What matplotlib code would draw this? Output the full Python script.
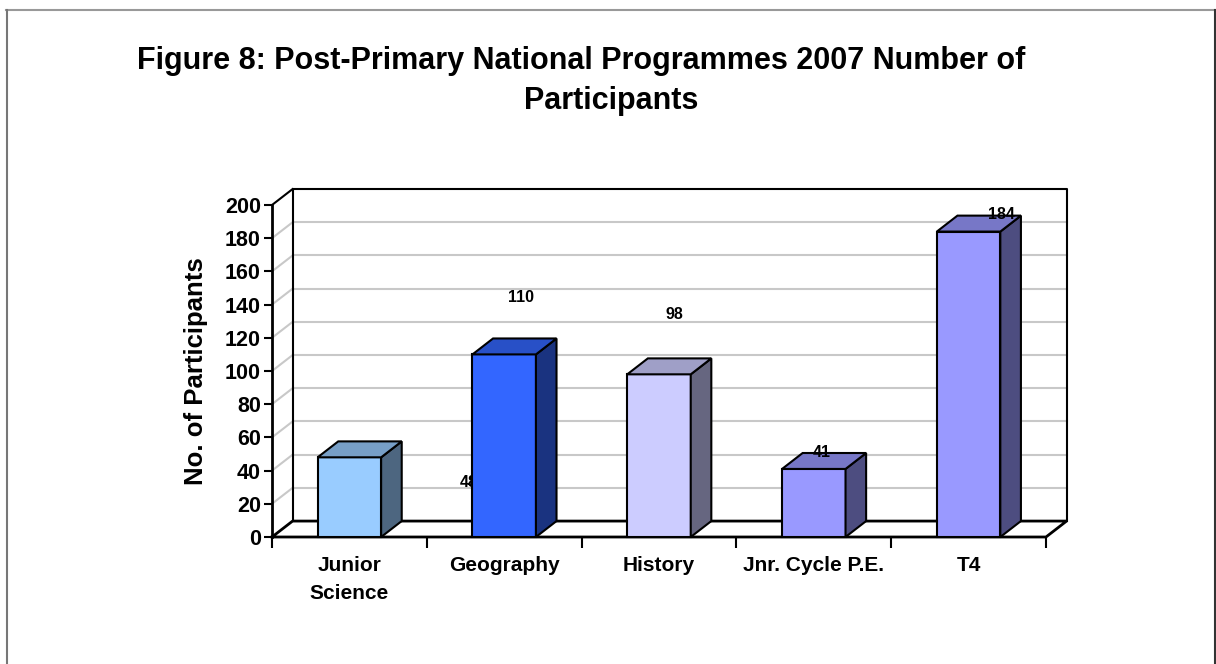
import numpy as np
import matplotlib.pyplot as plt
from matplotlib.patches import Polygon, Rectangle

plt.rcParams['font.family'] = ['Liberation Sans', 'DejaVu Sans']

# Data
categories = ["Junior\nScience", "Geography", "History", "Jnr. Cycle P.E.", "T4"]
participants = [48, 110, 98, 41, 184]
front_colors = ["#99CCFF", "#3366FF", "#CCCCFF", "#9999FF", "#9999FF"]

# label offsets (data units) relative to each bar top, as placed in the original
label_dx = [0.77, 0.11, 0.10, 0.05, 0.21]
label_dy = [-15, 34, 36, 10, 10]

def shade(hexcol, f):
    c = np.array([int(hexcol[i:i + 2], 16) for i in (1, 3, 5)]) / 255.0
    return tuple(c * f)

fig = plt.figure(figsize=(12.16, 6.64), dpi=100)

# outer frame
fig.add_artist(plt.Line2D([6 / 1216, 1], [1 - 9.5 / 664, 1 - 9.5 / 664], color="#999999", lw=1.5))
fig.add_artist(plt.Line2D([6.5 / 1216, 6.5 / 1216], [0, 1 - 9.5 / 664], color="#777777", lw=1.5))
fig.add_artist(plt.Line2D([1214.5 / 1216, 1214.5 / 1216], [0, 1 - 9.5 / 664], color="#333333", lw=1.5))

ax = fig.add_axes([272 / 1216, (664 - 537) / 664, (1046 - 272) / 1216, 332 / 664])
ax.set_xlim(-0.5, 4.5)
ax.set_ylim(0, 200)

dx, dy = 0.133, 9.6   # 3D depth offset
w = 0.41
x0, x1 = -0.5, 4.5

# back wall gridlines and side wall gridlines
for v in range(20, 200, 20):
    ax.plot([x0 + dx, x1 + dx], [v + dy, v + dy], color="#C8C8C8", lw=1.5, clip_on=False, zorder=1)
    ax.plot([x0, x0 + dx], [v, v + dy], color="#C8C8C8", lw=1.5, clip_on=False, zorder=1)

# walls outline
ax.plot([x0 + dx, x0 + dx, x1 + dx, x1 + dx], [dy, 200 + dy, 200 + dy, dy], color="black", lw=1.5, clip_on=False, zorder=2)
ax.plot([x0, x0 + dx], [200, 200 + dy], color="black", lw=1.5, clip_on=False, zorder=2)
# floor
ax.plot([x0, x0 + dx, x1 + dx, x1, x0], [0, dy, dy, 0, 0], color="black", lw=2, clip_on=False, zorder=2)
ax.plot([x0, x0], [0, 200], color="black", lw=2, clip_on=False, zorder=2)

# bars
for i, (v, col) in enumerate(zip(participants, front_colors)):
    l, r = i - w / 2, i + w / 2
    z = 3 + i
    ax.add_patch(Rectangle((l, 0), w, v, facecolor=col, edgecolor="black", lw=1.5, zorder=z, clip_on=False))
    ax.add_patch(Polygon([(r, 0), (r + dx, dy), (r + dx, v + dy), (r, v)],
                         facecolor=shade(col, 0.5), edgecolor="black", lw=1.5, zorder=z, clip_on=False))
    ax.add_patch(Polygon([(l, v), (l + dx, v + dy), (r + dx, v + dy), (r, v)],
                         facecolor=shade(col, 0.78), edgecolor="black", lw=1.5, zorder=z, clip_on=False))
    ax.text(i + label_dx[i], v + label_dy[i], str(v), ha="center", va="center",
            fontsize=11.5, fontweight="bold", zorder=z + 0.5)

for s in ax.spines.values():
    s.set_visible(False)
ax.set_yticks(range(0, 201, 20))
ax.tick_params(axis="y", length=6, width=1.5, labelsize=15.5, pad=2)
for t in ax.get_yticklabels():
    t.set_fontweight("bold")
ax.set_xticks(range(len(categories)))
ax.set_xticklabels(categories, fontsize=15, fontweight="bold", linespacing=1.55)
ax.tick_params(axis="x", length=0, pad=14)
ax.set_xticks(np.arange(-0.5, 4.6, 1), minor=True)
ax.tick_params(axis="x", which="minor", length=8, width=1.5)
ax.set_ylabel("No. of Participants", fontsize=18.5, fontweight="bold", labelpad=12)
ax.patch.set_visible(False)

fig.text(581 / 1216, 1 - 61 / 664, "Figure 8: Post-Primary National Programmes 2007 Number of",
         ha="center", va="center", fontsize=22, fontweight="bold")
fig.text(611 / 1216, 1 - 101 / 664, "Participants",
         ha="center", va="center", fontsize=22, fontweight="bold")

fig.savefig("out.png", dpi=100)
